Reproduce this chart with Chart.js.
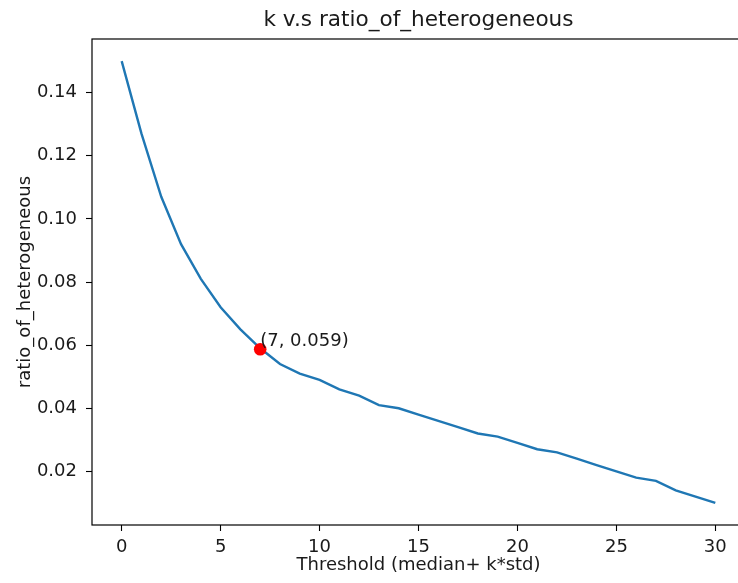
<!DOCTYPE html>
<html>
<head>
<meta charset="utf-8">
<script src="https://cdn.jsdelivr.net/npm/chart.js@4/dist/chart.umd.min.js"></script>
<style>
  html, body { margin: 0; padding: 0; background: #ffffff; overflow: hidden; width: 738px; height: 583px; }
  #wrap { position: absolute; left: 0; top: 0; width: 746px; height: 583px; }
</style>
</head>
<body>
<div id="wrap"><canvas id="c" width="746" height="583"></canvas></div>
<script>
const chartTitle = 'k v.s ratio_of_heterogeneous';
const xLabel = 'Threshold (median+ k*std)';
const yLabel = 'ratio_of_heterogeneous';
const kValues = [0,1,2,3,4,5,6,7,8,9,10,11,12,13,14,15,16,17,18,19,20,21,22,23,24,25,26,27,28,29,30];
const ratioValues = [0.150,0.127,0.107,0.092,0.081,0.072,0.065,0.059,0.054,0.051,0.049,0.046,0.044,0.041,0.040,0.038,0.036,0.034,0.032,0.031,0.029,0.027,0.026,0.024,0.022,0.020,0.018,0.017,0.014,0.012,0.010];
const xTickValues = [0,5,10,15,20,25,30];
const yTickValues = [0.02,0.04,0.06,0.08,0.10,0.12,0.14];
const highlightK = [7];
const highlightRatio = [0.0587];
const highlightText = ['(7, 0.059)'];

const FONT = "'DejaVu Sans', 'Liberation Sans', sans-serif";
const INK = '#000000';

const lineData = kValues.map((k, i) => ({ x: k, y: ratioValues[i] }));
const pointData = highlightK.map((k, i) => ({ x: k, y: highlightRatio[i] }));

const framePlugin = {
  id: 'frame',
  afterDatasetsDraw(chart) {
    const { ctx, chartArea: a, scales } = chart;
    ctx.save();
    ctx.strokeStyle = INK;
    ctx.lineWidth = 1.2;
    ctx.strokeRect(a.left, a.top, a.right - a.left, a.bottom - a.top);
    ctx.fillStyle = '#1a1a1a';
    ctx.font = "18px " + FONT;
    ctx.textAlign = 'left';
    ctx.textBaseline = 'alphabetic';
    highlightK.forEach((k, i) => {
      const px = scales.x.getPixelForValue(k);
      const py = scales.y.getPixelForValue(highlightRatio[i]);
      ctx.fillText(highlightText[i], px, py - 3);
    });
    ctx.restore();
  }
};

new Chart(document.getElementById('c'), {
  type: 'line',
  data: {
    datasets: [
      {
        data: lineData,
        borderColor: '#1f77b4',
        borderWidth: 2.4,
        pointRadius: 0,
        pointHoverRadius: 0,
        tension: 0,
        fill: false,
        order: 2
      },
      {
        type: 'scatter',
        data: pointData,
        backgroundColor: '#ff0000',
        borderColor: '#ff0000',
        pointRadius: 6.3,
        pointHoverRadius: 6.3,
        borderWidth: 0,
        order: 1
      }
    ]
  },
  options: {
    responsive: false,
    animation: false,
    devicePixelRatio: 1,
    layout: { autoPadding: false, padding: { left: 0, right: 1, top: 0, bottom: 0 } },
    plugins: {
      legend: { display: false },
      tooltip: { enabled: false },
      title: {
        display: true,
        fullSize: false,
        text: chartTitle,
        color: '#1a1a1a',
        font: { family: FONT, size: 21.6, weight: 'normal', lineHeight: 1.2 },
        padding: { top: 7, bottom: 6.08 }
      }
    },
    scales: {
      x: {
        type: 'linear',
        min: -1.5,
        max: 31.5,
        afterBuildTicks: (s) => { s.ticks = xTickValues.map(v => ({ value: v })); },
        afterFit: (s) => { s.height = 58; s.paddingLeft = 0; s.paddingRight = 0; },
        grid: { display: true, drawOnChartArea: false, drawTicks: true, tickLength: 6, tickColor: INK, tickWidth: 1.1 },
        border: { display: false },
        ticks: {
          color: '#1a1a1a',
          font: { family: FONT, size: 18 },
          padding: 5.5,
          maxRotation: 0,
          autoSkip: false,
          callback: (v) => String(v)
        },
        title: {
          display: true,
          text: xLabel,
          color: '#1a1a1a',
          font: { family: FONT, size: 18, lineHeight: 1.2 },
          padding: { top: 0, bottom: 7.2 }
        }
      },
      y: {
        type: 'linear',
        min: 0.003,
        max: 0.157,
        afterBuildTicks: (s) => { s.ticks = yTickValues.map(v => ({ value: v })); },
        afterFit: (s) => { s.width = 92; s.paddingTop = 0; s.paddingBottom = 0; },
        grid: { display: true, drawOnChartArea: false, drawTicks: true, tickLength: 6, tickColor: INK, tickWidth: 1.1 },
        border: { display: false },
        ticks: {
          color: '#1a1a1a',
          font: { family: FONT, size: 18 },
          padding: 9,
          autoSkip: false,
          callback: (v) => Number(v).toFixed(2)
        },
        title: {
          display: true,
          text: yLabel,
          color: '#1a1a1a',
          font: { family: FONT, size: 18, lineHeight: 1.2 },
          padding: { top: 14.2, bottom: 0 }
        }
      }
    }
  },
  plugins: [framePlugin]
});
</script>
</body>
</html>
